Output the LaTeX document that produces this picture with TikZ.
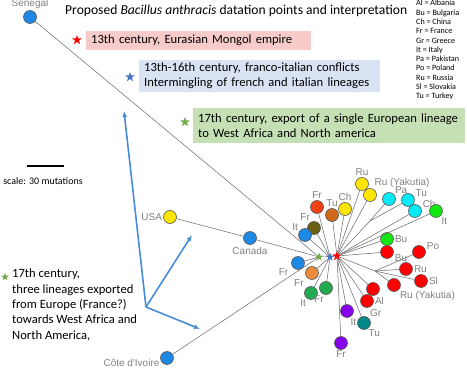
\documentclass[tikz,border=0pt]{standalone}
\usepackage{fontspec}
\setmainfont{Carlito}
\newfontfamily\arialfont{Liberation Sans}
\usepackage{tikz}
\usetikzlibrary{arrows.meta,shapes.geometric,positioning}

\definecolor{siteblue}{RGB}{30,136,229}
\definecolor{siteyellow}{RGB}{255,230,0}
\definecolor{sitered}{RGB}{255,0,0}
\definecolor{sitescarlet}{RGB}{240,65,20}
\definecolor{sitebrown}{RGB}{205,105,25}
\definecolor{siteolive}{RGB}{105,95,15}
\definecolor{sitecyan}{RGB}{0,235,245}
\definecolor{sitelime}{RGB}{20,230,20}
\definecolor{siteorange}{RGB}{235,140,60}
\definecolor{sitegreen}{RGB}{35,170,80}
\definecolor{sitepurple}{RGB}{135,0,235}
\definecolor{siteteal}{RGB}{0,135,135}
\definecolor{exportblue}{RGB}{70,140,215}
\definecolor{pinkbox}{RGB}{248,203,203}
\definecolor{bluebox}{RGB}{218,227,243}
\definecolor{greenbox}{RGB}{197,224,180}
\definecolor{starblue}{RGB}{68,114,196}
\definecolor{stargreen}{RGB}{112,173,71}

\begin{document}
\begin{tikzpicture}[x=1pt, y=-1pt,
                    site/.style={
                        circle,
                        draw=black!65,
                        line width=0.6pt,
                        minimum size=13pt,
                        inner sep=0pt
                    },
                    tag/.style={
                        text=black!50,
                        font=\arialfont\fontsize{10}{12}\selectfont,
                        inner sep=1pt
                    },
                    datemark/.style={
                        star,
                        star points=5,
                        star point ratio=2.4,
                        minimum size=10pt,
                        inner sep=0pt
                    },
                    note/.style={
                        anchor=north west,
                        align=left,
                        inner xsep=5pt,
                        inner ysep=0pt,
                        font=\fontsize{12.6}{15}\selectfont
                    },
                    link/.style={draw=black!60, line width=0.5pt},
                    export/.style={draw=exportblue, line width=1.6pt, -{Latex[length=6pt,width=5pt]}}
                ]
    \useasboundingbox (0,0) rectangle (467,369);

    \node[anchor=west, inner sep=0pt, font=\fontsize{13.6}{15}\selectfont] (title) at (65,11)
        {Proposed \textit{Bacillus anthracis} datation points and interpretation};
    \node[anchor=north west, align=left, inner sep=0pt,
          font=\fontsize{8.1}{9.3}\selectfont] (legend) at (416,0)
        {Al = Albania\\Bu = Bulgaria\\Ch = China\\Fr = France\\Gr = Greece\\It = Italy\\Pa = Pakistan\\Po = Poland\\Ru = Russia\\Sl = Slovakia\\Tu = Turkey};

    \node[datemark, fill=sitered] (mkMongol) at (77,40) {};
    \node[note, fill=pinkbox, minimum height=19pt, text width=215pt] (mongol) at (86,31)
        {\mbox{13th century, Eurasian Mongol empire}};
    \node[datemark, fill=starblue] (mkConflict) at (130,77) {};
    \node[note, fill=bluebox, minimum height=32pt, text width=231pt] (conflict) at (139,60)
        {\mbox{13th-16th century, franco-italian conflicts}\\\mbox{Intermingling of french and italian lineages}};
    \node[datemark, fill=stargreen] (mkExport) at (185,122) {};
    \node[note, fill=greenbox, minimum height=35pt, text width=262pt] (export) at (193,108)
        {\mbox{17th century, export of a single European lineage}\\\mbox{to West Africa and North america}};

    \coordinate (sbLeft) at (27,166);
    \coordinate (sbRight) at (64,166);
    \draw[line width=1.5pt] (sbLeft) -- (sbRight);
    \node[font=\fontsize{10}{12}\selectfont] (scale) at (43,181) {scale: 30 mutations};

    \node[datemark, fill=stargreen, minimum size=8pt] (mkThree) at (5,277) {};
    \node[note, inner xsep=0pt, font=\fontsize{12.6}{15.3}\selectfont] (three) at (12,269)
        {17th century,\\three lineages exported\\from Europe (France?)\\towards West Africa and\\North America,};

    \coordinate (hub) at (146,307);
    \coordinate (toSenegal) at (124,111);
    \coordinate (toUsa) at (192,235);
    \coordinate (toIvory) at (200,329);
    \draw[export] (hub) -- (toSenegal);
    \draw[export] (hub) -- (toUsa);
    \draw[export] (hub) -- (toIvory);

    \node[site, fill=siteblue, label={[tag]90:Senegal}] (senegal) at (30,17) {};
    \node[site, fill=siteyellow, label={[tag]180:USA}] (usa) at (170,217) {};
    \node[site, fill=siteblue, label={[tag,label distance=1pt]270:Canada}] (canada) at (250,238) {};
    \node[site, fill=siteblue, label={[tag,anchor=north east,yshift=2pt]200:Côte d'Ivoire}] (ivory) at (167,358) {};

    \node[datemark, fill=stargreen, minimum size=9pt] (cGreen) at (319,257) {};
    \node[datemark, fill=starblue, minimum size=9pt] (cBlue) at (330,257) {};
    \node[datemark, fill=sitered, minimum size=10pt] (cRed) at (337,256) {};
    \coordinate (forkPa) at (370,221);
    \coordinate (forkRu) at (375,271);

    \node[site, fill=siteyellow, label={[tag]90:Ru}] (ruA) at (362,184) {};
    \node[site, fill=siteyellow, label={[tag,anchor=south west]60:Ru (Yakutia)}] (ruyA) at (370,195) {};
    \node[site, fill=sitecyan, label={[tag,anchor=south west,yshift=-1pt]45:Pa}] (paA) at (389,199) {};
    \node[site, fill=sitecyan, label={[tag]20:Tu}] (tuA) at (408,200) {};
    \node[site, fill=sitecyan, label={[tag]15:Ch}] (chA) at (415,211) {};
    \node[site, fill=sitelime, label={[tag]-50:It}] (itA) at (436,211) {};
    \node[site, fill=sitescarlet, label={[tag]90:Fr}] (frA) at (317,207) {};
    \node[site, fill=sitebrown, label={[tag]90:Tu}] (tuB) at (332,215) {};
    \node[site, fill=siteyellow, label={[tag]90:Ch}] (chB) at (345,209) {};
    \node[site, fill=siteolive, label={[tag]115:Fr}] (frB) at (314,228) {};
    \node[site, fill=siteblue, label={[tag]150:It}] (itB) at (305,235) {};
    \node[site, fill=sitelime, label={[tag]0:Bu}] (buA) at (387,239) {};
    \node[site, fill=sitered, label={[tag]-10:Bu}] (buB) at (387,252) {};
    \node[site, fill=sitered, label={[tag]10:Po}] (poA) at (419,252) {};
    \node[site, fill=sitered, label={[tag]0:Ru}] (ruB) at (406,269) {};
    \node[site, fill=sitered, label={[tag]0:Sl}] (slA) at (421,281) {};
    \node[site, fill=sitered, label={[tag,anchor=north west]-45:Ru (Yakutia)}] (ruyB) at (394,285) {};
    \node[site, fill=sitered] (alA) at (373,289) {};
    \node[site, fill=sitered, label={[tag]0:Al}] (alB) at (367,301) {};
    \node[site, fill=sitepurple, label={[tag]-70:It}] (itC) at (347,311) {};
    \node[site, fill=siteteal, label={[tag,anchor=south west]45:Gr},
          label={[tag,anchor=north west]-60:Tu}] (tuC) at (364,323) {};
    \node[site, fill=sitepurple, label={[tag]270:Fr}] (frC) at (341,343) {};
    \node[site, fill=siteblue, label={[tag,label distance=3pt]210:Fr}] (frD) at (298,263) {};
    \node[site, fill=siteorange, label={[tag,label distance=2pt]215:Fr}] (frE) at (312,273) {};
    \node[site, fill=sitegreen, label={[tag]235:It}] (itD) at (311,293) {};
    \node[site, fill=sitegreen, label={[tag]260:Fr}] (frF) at (326,288) {};

    \draw[link] (senegal) -- (cGreen);
    \draw[link] (usa) -- (canada) -- (cGreen);
    \draw[link] (ivory) -- (cGreen);
    \draw[link] (frD) -- (cGreen);
    \draw[link] (cGreen) -- (cBlue) -- (cRed);
    \foreach \n in {frA,frB,itB,frE,itD,frF}
        \draw[link] (\n) -- (cBlue);
    \foreach \n in {ruA,ruyA,chB,tuB,chA,itA,buA,buB,alA,alB,tuC,itC,frC}
        \draw[link] (\n) -- (cRed);
    \draw[link] (cRed) -- (forkPa);
    \draw[link] (paA) -- (forkPa) -- (tuA);
    \draw[link] (cRed) -- (forkRu);
    \foreach \n in {poA,ruB,slA,ruyB}
        \draw[link] (forkRu) -- (\n);
\end{tikzpicture}
\end{document}
